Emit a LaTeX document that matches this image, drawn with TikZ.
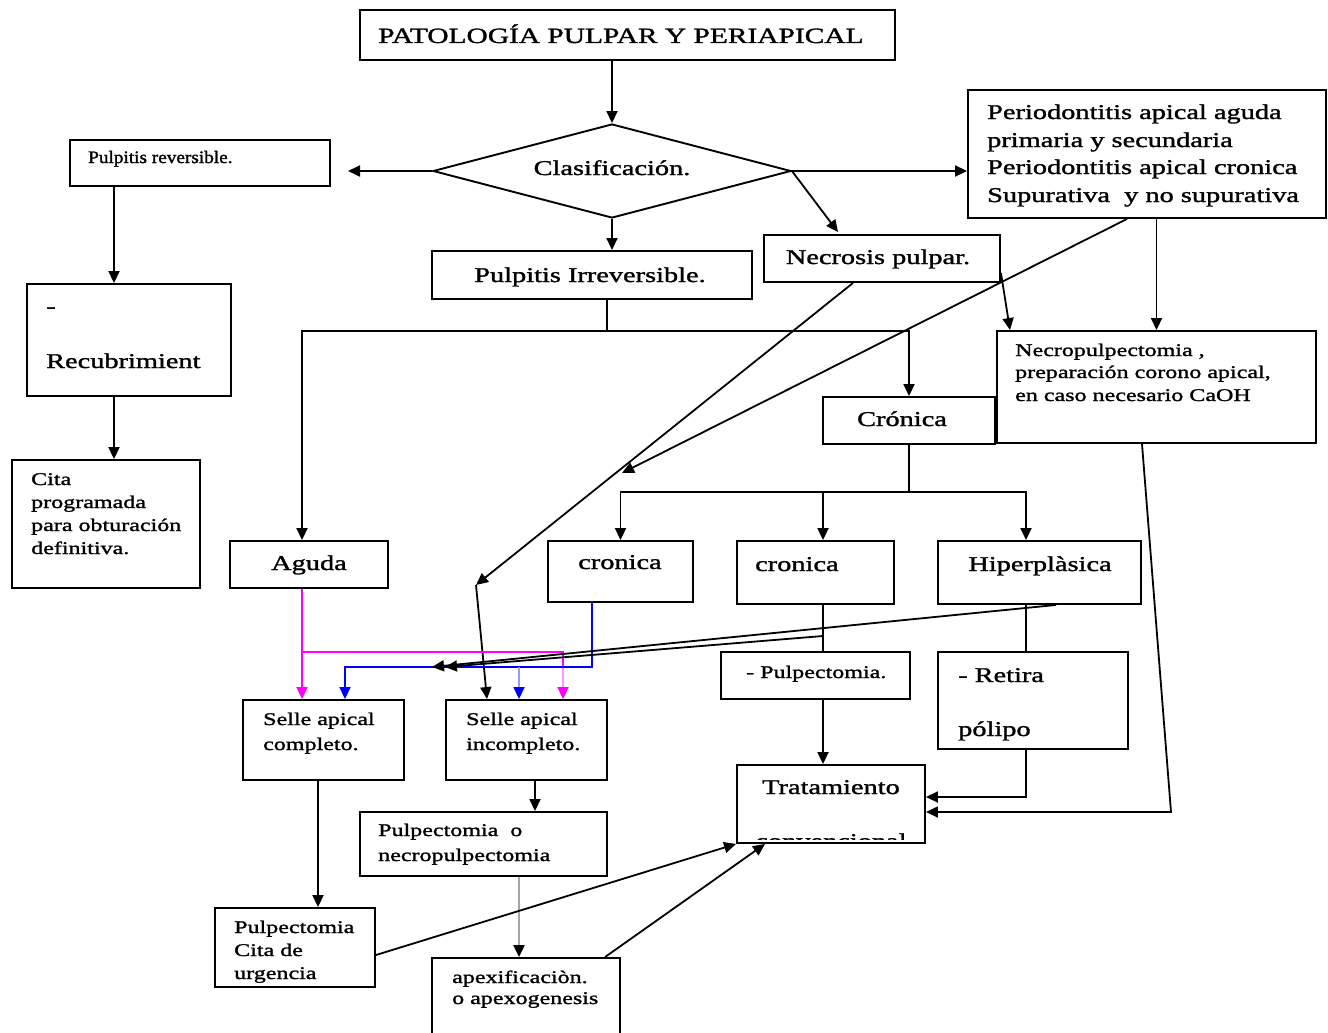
\documentclass[tikz,border=0pt]{standalone}
\usepackage{fontspec}
\setmainfont{Liberation Serif}[FakeStretch=1.35,FakeBold=1.4]
\newfontfamily\narrowfont{Liberation Serif}[FakeStretch=1.1,FakeBold=1.6]
\usetikzlibrary{arrows.meta,shapes.geometric,calc}
\definecolor{mag}{RGB}{255,0,255}
\definecolor{blu}{RGB}{0,0,255}
\begin{document}
\begin{tikzpicture}[x=1pt,y=-1pt,
  box/.style={draw,line width=1.9pt,inner sep=0pt},
  big/.style={font=\fontsize{21}{27.5}\selectfont,inner sep=0pt,anchor=base west},
  small/.style={font=\fontsize{17.8}{23}\selectfont,inner sep=0pt,anchor=base west},
  ln/.style={line width=1.8pt},
  arr/.style={line width=1.8pt,-{Triangle[length=12pt,width=11pt]}},
  arrc/.style={line width=1.8pt,-{Triangle[length=12pt,width=11pt,color=#1]}}
]
\useasboundingbox (0,0) rectangle (1328,1033);
\fill[white] (0,0) rectangle (1328,1033);

% boxes
\node[box,minimum width=535pt,minimum height=50pt] (title) at (627.5,35) {};
\node[box,diamond,minimum width=358pt,minimum height=94pt] (clas) at (612,171) {};
\node[box,minimum width=260pt,minimum height=46pt] (rev) at (200,163) {};
\node[box,minimum width=358pt,minimum height=128pt] (perio) at (1147,154) {};
\node[box,minimum width=320pt,minimum height=48pt] (irr) at (592,275) {};
\node[box,minimum width=236pt,minimum height=47pt] (necro) at (882,258.5) {};
\node[box,minimum width=204pt,minimum height=112pt] (recub) at (129,340) {};
\node[box,minimum width=188pt,minimum height=128pt] (cita) at (106,524) {};
\node[box,minimum width=319pt,minimum height=112pt] (necp) at (1156.5,387) {};
\node[box,minimum width=172pt,minimum height=47pt] (cron) at (909,420.5) {};
\node[box,minimum width=158pt,minimum height=47pt] (aguda) at (309,564.5) {};
\node[box,minimum width=145pt,minimum height=61pt] (cr1) at (620.5,571.5) {};
\node[box,minimum width=157pt,minimum height=63pt] (cr2) at (815.5,572.5) {};
\node[box,minimum width=203pt,minimum height=63pt] (hip) at (1039.5,572.5) {};
\node[box,minimum width=189pt,minimum height=47pt] (pulp) at (815.5,675.5) {};
\node[box,minimum width=190pt,minimum height=97pt] (ret) at (1033,700.5) {};
\node[box,minimum width=161pt,minimum height=80pt] (scomp) at (323.5,740) {};
\node[box,minimum width=161pt,minimum height=80pt] (sinc) at (526.5,740) {};
\node[box,minimum width=188pt,minimum height=78pt] (trat) at (831,804) {};
\node[box,minimum width=247pt,minimum height=64pt] (pnec) at (483.5,844) {};
\node[box,minimum width=160pt,minimum height=79pt] (pcita) at (295,947.5) {};
\node[box,minimum width=188pt,minimum height=84pt] (apex) at (526,1000) {};

% texts
\node[big,font=\fontsize{21.8}{27.5}\selectfont] (tTitle) at (378,43) {PATOLOGÍA PULPAR Y PERIAPICAL};
\node[big,anchor=base] (tClas) at (612,175) {Clasificación.};
\node[inner sep=0pt,anchor=base west,font=\narrowfont\fontsize{17.5}{21}\selectfont] (tRev) at (88,163) {Pulpitis reversible.};
\node[big] (tPer1) at (987,119) {Periodontitis apical aguda};
\node[big] (tPer2) at (987,147) {primaria y secundaria};
\node[big] (tPer3) at (987,174) {Periodontitis apical cronica};
\node[big] (tPer4) at (987,202) {Supurativa\ \ y no supurativa};
\node[big,anchor=base] (tIrr) at (590,282) {Pulpitis Irreversible.};
\node[big,anchor=base] (tNecro) at (878,264) {Necrosis pulpar.};
\node[big] (tRec1) at (46,313) {-};
\node[big] (tRec2) at (46,368) {Recubrimient};
\node[small] (tCit1) at (31,485) {Cita};
\node[small] (tCit2) at (31,508) {programada};
\node[small] (tCit3) at (31,531) {para obturación};
\node[small] (tCit4) at (31,554) {definitiva.};
\node[small] (tNep1) at (1015,356) {Necropulpectomia ,};
\node[small] (tNep2) at (1015,378) {preparación corono apical,};
\node[small] (tNep3) at (1015,401) {en caso necesario CaOH};
\node[big,anchor=base] (tCron) at (902,426) {Crónica};
\node[big,anchor=base] (tAg) at (309,570) {Aguda};
\node[big,anchor=base] (tCr1) at (620,569) {cronica};
\node[big] (tCr2) at (755,571) {cronica};
\node[big,anchor=base] (tHip) at (1040,571) {Hiperplàsica};
\node[small] (tPulp) at (746,678) {- Pulpectomia.};
\node[big] (tRet1) at (958,682) {- Retira};
\node[big] (tRet2) at (958,736) {pólipo};
\node[small] (tSc1) at (263,725) {Selle apical};
\node[small] (tSc2) at (263,750) {completo.};
\node[small] (tSi1) at (466,725) {Selle apical};
\node[small] (tSi2) at (466,750) {incompleto.};
\node[big,anchor=base] (tTrat) at (831,794) {Tratamiento};
\begin{scope}
\clip (740,825) rectangle (922,839.5);
\node[big,anchor=base] (tConv) at (831,848) {convencional};
\end{scope}
\node[small] (tPn1) at (378,836) {Pulpectomia\ \ o};
\node[small] (tPn2) at (378,861) {necropulpectomia};
\node[small] (tPc1) at (234,933) {Pulpectomia};
\node[small] (tPc2) at (234,956) {Cita de};
\node[small] (tPc3) at (234,979) {urgencia};
\node[small] (tAp1) at (452,983) {apexificaciòn.};
\node[small] (tAp2) at (452,1004) {o apexogenesis};

% connectors
\draw[arr] (title.south -| clas.north) -- (clas.north);
\coordinate (revend) at (348,171);
\draw[arr] (clas.west) -- (revend);
\draw[arr] (clas.east) -- (clas.east -| perio.west);
\draw[arr] (clas.east) -- ([xshift=-44pt,yshift=2pt]necro.north);
\draw[arr] (clas.south) -- (clas.south |- irr.north);

\coordinate (a1) at ([xshift=-86pt]rev.south);
\draw[arr] (a1) -- (a1 |- recub.north);
\draw[arr] (a1 |- recub.south) -- (a1 |- cita.north);

\coordinate (j1) at (607,331);
\draw[ln] (j1 |- irr.south) -- (j1);
\draw[arr] (j1) -| ([xshift=-7pt]aguda.north);
\draw[arr] (j1) -| (cron.north);

\coordinate (j2) at (909,492);
\draw[ln] (cron.south) -- (j2);
\draw[arr] (j2) -| (cr1.north);
\draw[arr] (j2) -| ([xshift=7.5pt]cr2.north);
\draw[arr] (j2) -| ([xshift=-13.5pt]hip.north);

\draw[arr] (perio.south -| necp.north) -- (necp.north);
\draw[arr] ([yshift=10pt]necro.south east) -- ([xshift=-146.5pt]necp.north);
\coordinate (pf) at (622,473);
\draw[arr] ([xshift=-20pt]perio.south) -- (pf);
\coordinate (nf) at (476,585);
\draw[arr] ([xshift=-29pt]necro.south) -- (nf);
\draw[arr] (nf) -- ([xshift=-39.5pt]sinc.north);
\coordinate (rc) at (1171,812);
\draw[arr] ([xshift=-14.5pt]necp.south) -- (rc) -- (rc -| trat.east);

% coloured
\coordinate (m1) at (302,652);
\coordinate (m2) at (563,652);
\coordinate (m3) at (563,667);
\draw[arr,mag] ([xshift=-7pt]aguda.south) -- ([xshift=-21.5pt]scomp.north);
\draw[ln,mag] (m1) -- (m2) -- (m3);
\draw[arrc=mag,mag!40] (m3) -- ([xshift=36.5pt]sinc.north);
\coordinate (b2) at (592,667);
\coordinate (b3) at (519,667);
\draw[arr,blu] ([xshift=-28.5pt]cr1.south) -- (b2) -| ([xshift=21.5pt]scomp.north);
\draw[arrc=blu,blu!40] (b3) -- ([xshift=-7.5pt]sinc.north);

\draw[ln] ([xshift=7.5pt]cr2.south) -- ([xshift=7.5pt]pulp.north);
\coordinate (d1) at (823,636);
\coordinate (e1) at (445,667);
\coordinate (e2) at (432,667);
\draw[arr] (d1) -- (e1);
\draw[arr] ([xshift=16.5pt]hip.south) -- (e2);
\draw[ln] ([xshift=-13.5pt]hip.south) -- ([xshift=-7pt]ret.north);
\draw[arr] ([xshift=7.5pt]pulp.south) -- ([xshift=-8pt]trat.north);
\coordinate (rr) at (1026,797);
\draw[arr] ([xshift=-7pt]ret.south) -- (rr) -- (rr -| trat.east);
\draw[arr] ([xshift=-5.5pt]scomp.south) -- ([xshift=23pt]pcita.north);
\draw[arr] ([xshift=8.5pt]sinc.south) -- ([xshift=51.5pt]pnec.north);
\draw[arrc=black,gray!70,line width=2.2pt] ([xshift=35.5pt]pnec.south) -- ([xshift=-7pt]apex.north);
\draw[arr] ([yshift=-7.5pt]pcita.east) -- (trat.south west);
\draw[arr] ([xshift=79pt]apex.north) -- ([xshift=-66pt]trat.south);
\end{tikzpicture}
\end{document}
